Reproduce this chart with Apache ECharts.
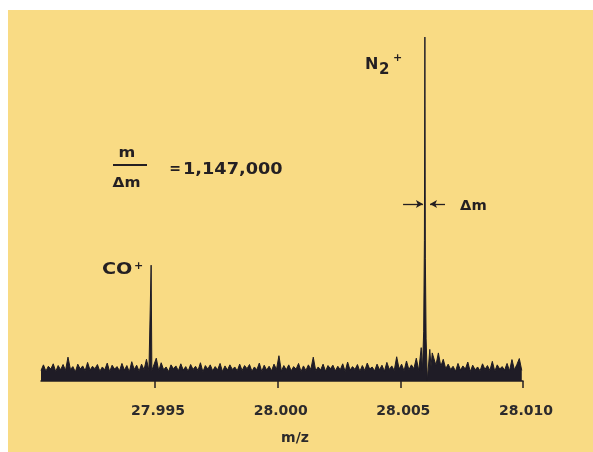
<!DOCTYPE html>
<html>
<head>
<meta charset="utf-8">
<script src="https://cdn.jsdelivr.net/npm/echarts@6/dist/echarts.min.js"></script>
<style>
  html, body { margin: 0; padding: 0; background: #ffffff; }
  #wrap { position: relative; width: 593px; height: 452px; overflow: hidden; }
  #paper { position: absolute; left: 8px; top: 10px; width: 585px; height: 442px; background: #f9db84; }
  #chart { position: absolute; left: 0; top: 0; width: 593px; height: 452px; }
</style>
</head>
<body>
<div id="wrap"><div id="paper"></div><div id="chart"></div></div>
<script>
// ---- data ----
const mzStart = 27.99035;
const mzStep = 0.0001;
// baseline noise, one value per mzStep (null where a peak replaces it)
const noise = [
  3.0, 4.6, 2.8, 4.2, 3.4, 4.9, 2.7, 4.4, 3.2, 4.7,
  3.0, 6.8, 3.3, 4.1, 2.6, 4.8, 3.4, 4.3, 2.9, 5.3,
  3.1, 4.2, 3.5, 4.7, 2.8, 4.0, 3.2, 5.1, 2.7, 4.5,
  3.4, 4.1, 2.9, 5.0, 3.1, 4.4, 2.6, 5.5, 3.3, 4.5,
  2.8, 4.8, 3.2, 6.2, 3.0, null, 3.4, 6.5, 2.9, 5.2,
  3.2, 4.0, 2.7, 4.6, 3.5, 4.3, 2.9, 4.9, 3.1, 4.1,
  2.8, 4.7, 3.3, 4.2, 3.0, 5.2, 2.6, 4.4, 3.4, 4.6,
  2.9, 4.1, 3.2, 5.0, 2.7, 4.3, 3.1, 4.6, 3.3, 4.0,
  2.9, 4.8, 3.0, 4.4, 3.5, 4.7, 2.8, 4.0, 3.2, 5.1,
  2.7, 4.5, 3.1, 4.2, 2.9, 4.8, 3.3, 7.2, 2.8, 4.4,
  3.2, 4.6, 2.9, 4.1, 3.4, 5.0, 2.7, 4.3, 3.0, 4.6,
  3.3, 6.8, 2.9, 4.0, 3.1, 4.8, 2.8, 4.4, 3.5, 4.5,
  2.9, 4.2, 3.2, 4.9, 2.7, 5.4, 3.1, 4.1, 3.3, 4.7,
  2.8, 4.4, 3.0, 5.1, 3.4, 4.0, 2.9, 4.8, 3.2, 4.5,
  2.8, 5.3, 3.3, 4.3, 3.0, 6.9, 3.4, 4.8, 2.9, 5.7,
  3.2, 4.6, 3.5, 6.5, 3.0, null, null, null, null, null,
  7.5, 4.5, 8.0, 4.2, 6.2, 3.5, 4.8, 3.3, 4.2, 2.8,
  5.0, 3.1, 4.3, 3.4, 5.4, 2.7, 4.5, 3.2, 4.0, 2.9,
  4.9, 3.3, 4.4, 3.0, 5.6, 2.8, 4.6, 3.4, 4.1, 3.1,
  5.0, 2.9, 6.1, 3.2, 4.7, 6.4, 3.0
];
// CO+ peak
const coMz  = [27.99481, 27.99484, 27.99487];
const coInt = [3.5, 33, 3.0];
// N2+ peak
const n2Mz  = [28.00585, 28.00590, 28.00595, 28.00598, 28.00600, 28.00602, 28.00605, 28.00610, 28.00615, 28.00620, 28.00625, 28.00630];
const n2Int = [9.5, 3.0, 14, 40, 98, 35, 12, 0.2, 0.1, 9, 4, 8];
// axis
const axisMin = 27.99035;
const axisMax = 28.010;
const tickValues = [27.995, 28.000, 28.005, 28.010];
// delta-m arrows (m/z positions, height)
const arrowY = 50.4;
const arrowLeft  = [28.00511, 28.00592];
const arrowRight = [28.00682, 28.00621];

// ---- build ----
const pts = [];
noise.forEach((v, i) => { if (v !== null) pts.push([mzStart + i * mzStep, v]); });
coMz.forEach((m, i) => pts.push([m, coInt[i]]));
n2Mz.forEach((m, i) => pts.push([m, n2Int[i]]));
pts.sort((a, b) => a[0] - b[0]);

const ink = '#241f22';
const FF = '"DejaVu Sans", sans-serif';
function txt(text, x, y, size, opts) {
  opts = opts || {};
  return {
    type: 'text', x: x, y: y, scaleX: opts.sx || 1, silent: true, z: 10,
    style: {
      text: text, fill: ink, font: 'bold ' + size + 'px ' + FF,
      textAlign: opts.align || 'left', align: opts.align || 'left',
      textVerticalAlign: 'middle', verticalAlign: 'middle'
    }
  };
}

const chart = echarts.init(document.getElementById('chart'), null, { renderer: 'canvas' });
chart.setOption({
  animation: false,
  backgroundColor: 'transparent',
  grid: { left: 41, right: 70, top: 30, bottom: 71 },
  xAxis: {
    type: 'value', min: axisMin, max: axisMax,
    splitLine: { show: false },
    axisLine: { lineStyle: { color: ink, width: 1.5 } },
    axisTick: { customValues: tickValues, length: 7, lineStyle: { color: ink, width: 1.5 } },
    axisLabel: {
      customValues: tickValues,
      formatter: v => v.toFixed(3),
      color: '#2c2a2c', fontFamily: FF, fontWeight: 'bold', fontSize: 14,
      margin: 23, padding: [0, 0, 0, 6]
    },
    name: 'm/z', nameLocation: 'middle', nameGap: 50,
    nameTextStyle: { color: '#2c2a2c', fontFamily: FF, fontWeight: 'bold', fontSize: 14, padding: [0, 0, 0, 26] }
  },
  yAxis: { type: 'value', min: 0, max: 100, show: false },
  series: [{
    type: 'line', data: pts, showSymbol: false, sampling: null,
    lineStyle: { color: '#1f1c26', width: 1 },
    areaStyle: { color: '#1f1c26', opacity: 1 },
    markLine: {
      silent: true, symbol: ['none', 'arrow'], symbolSize: [6, 7],
      label: { show: false },
      lineStyle: { color: ink, width: 1.3, type: 'solid' },
      data: [
        [{ coord: [arrowLeft[0], arrowY] }, { coord: [arrowLeft[1], arrowY] }],
        [{ coord: [arrowRight[0], arrowY] }, { coord: [arrowRight[1], arrowY] }]
      ]
    }
  }],
  graphic: [
    txt('N', 365, 65, 16),
    txt('2', 379, 70.5, 15),
    txt('+', 393, 58.5, 11),
    txt('CO', 102, 270, 16, { sx: 1.2 }),
    txt('+', 134, 266.5, 11),
    txt('m', 127, 153, 14, { align: 'center', sx: 1.15 }),
    { type: 'line', silent: true, z: 10, shape: { x1: 113, y1: 165, x2: 147, y2: 165 }, style: { stroke: ink, lineWidth: 2 } },
    txt('Δm', 126.5, 183.5, 14, { align: 'center', sx: 1.1 }),
    txt('=', 175, 169.5, 14, { align: 'center' }),
    txt('1,147,000', 183, 170, 15, { sx: 1.18 }),
    txt('Δm', 460, 206, 14, { sx: 1.05 })
  ]
});
</script>
</body>
</html>
